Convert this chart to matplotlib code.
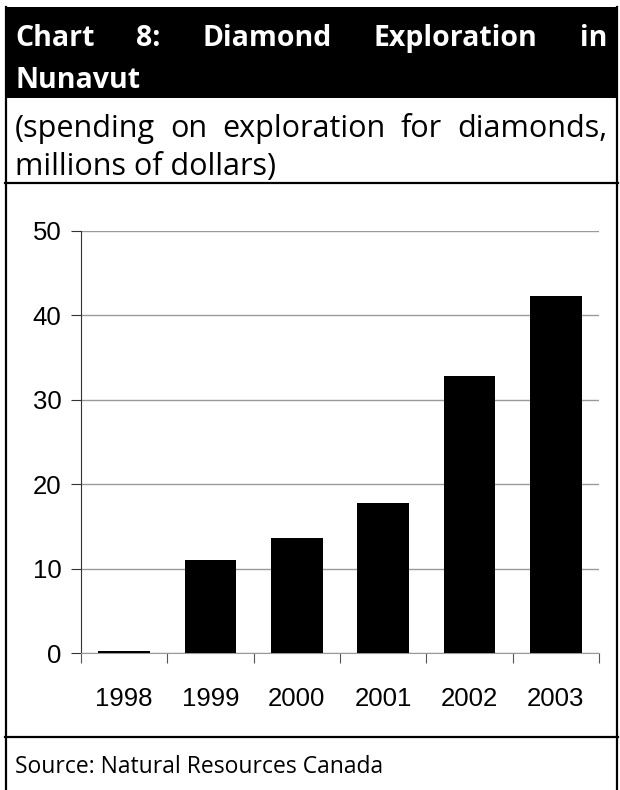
import matplotlib
matplotlib.use('Agg')
import matplotlib.pyplot as plt
from matplotlib.patches import Rectangle

years = ['1998', '1999', '2000', '2001', '2002', '2003']
spending = [0.25, 11.1, 13.7, 17.8, 32.8, 42.3]
yticks = [0, 10, 20, 30, 40, 50]

title_lines = ['Chart 8: Diamond Exploration in', 'Nunavut']
subtitle_lines = ['(spending on exploration for diamonds,', 'millions of dollars)']
source = 'Source: Natural Resources Canada'

W, H = 620, 790
fig = plt.figure(figsize=(W / 100, H / 100), dpi=100)


def fx(px):
    return px / W


def fy(py):
    return 1 - py / H


def justify(words, ybase, x0, x1, **kw):
    # place words so the line fills x0..x1, like justified text
    renderer = fig.canvas.get_renderer()
    texts = [fig.text(0, fy(ybase), w, va='baseline', ha='left', **kw) for w in words]
    widths = [t.get_window_extent(renderer).width for t in texts]
    gap = (x1 - x0 - sum(widths)) / (len(words) - 1)
    x = x0
    for t, w in zip(texts, widths):
        t.set_x(fx(x))
        x += w + gap


# black title band and box lines
fig.patches.append(Rectangle((fx(5), fy(98)), fx(613), 91 / H, transform=fig.transFigure,
                             facecolor='black', edgecolor='none'))
for x in [6, 617]:
    fig.add_artist(plt.Line2D([fx(x), fx(x)], [0, fy(7)], color='black', lw=1.6))
for y in [183, 737]:
    fig.add_artist(plt.Line2D([fx(5), fx(618)], [fy(y), fy(y)], color='black', lw=1.6))

title_font = dict(family='Open Sans', weight='bold', size=20.5, color='white')
sub_font = dict(family='Open Sans', size=22, color='black')
src_font = dict(family='Open Sans', size=16.5, color='black')

justify(title_lines[0].split(), 46, 15, 607, **title_font)
fig.text(fx(15), fy(88), title_lines[1], va='baseline', **title_font)
justify(subtitle_lines[0].split(), 137, 15, 607, **sub_font)
fig.text(fx(15), fy(175), subtitle_lines[1], va='baseline', **sub_font)
fig.text(fx(15), fy(773), source, va='baseline', **src_font)

# chart
ax = fig.add_axes([fx(81), fy(653.3), fx(599 - 81), (653.3 - 231) / H])
x = range(len(years))
ax.bar(x, spending, width=0.6, color='black', zorder=3)
ax.set_xlim(-0.5, len(years) - 0.5)
ax.set_ylim(0, 50)
ax.set_yticks(yticks)
ax.set_yticklabels([str(v) for v in yticks], family='Liberation Sans', fontsize=18.5)
ax.grid(axis='y', color='#9a9a9a', lw=1, zorder=0)
ax.set_xticks([i - 0.5 for i in range(len(years) + 1)])
ax.set_xticklabels([])
ax.set_xticks(list(x), minor=True)
ax.set_xticklabels(years, minor=True, family='Liberation Sans', fontsize=18.5)
ax.tick_params(axis='x', which='major', direction='out', length=7, color='#555555')
ax.tick_params(axis='x', which='minor', length=0, pad=24)
ax.tick_params(axis='y', direction='out', length=7, color='#333333', pad=7)
for s in ['top', 'right']:
    ax.spines[s].set_visible(False)
ax.spines['left'].set_color('#333333')
ax.spines['bottom'].set_color('#9a9a9a')

fig.savefig('out.png', dpi=100)
